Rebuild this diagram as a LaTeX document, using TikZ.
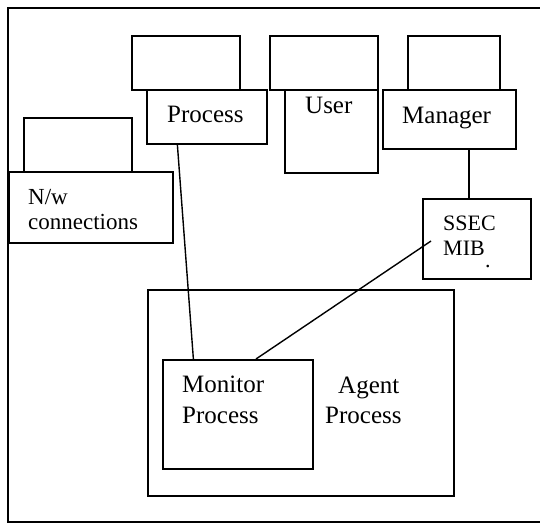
\documentclass[tikz,border=0pt]{standalone}
\usepackage{fontspec}
\setmainfont{Liberation Serif}
\usetikzlibrary{calc}
\begin{document}
\begin{tikzpicture}[x=1pt,y=-1pt,
  box/.style={draw,line width=1.6pt,inner sep=0pt,anchor=north west},
  lbl/.style={anchor=base west,inner sep=0pt,font=\fontsize{25}{30}\selectfont},
  slbl/.style={anchor=base west,inner sep=0pt,font=\fontsize{22}{26}\selectfont},
  nlbl/.style={anchor=base west,inner sep=0pt,font=\fontsize{23}{27}\selectfont},
  conn/.style={line width=1.4pt}]
\useasboundingbox (0,0) rectangle (540,523);
% outer frame (right edge beyond the picture)
\draw[line width=1.5pt] (545,8) -- (8,8) -- (8,522) -- (545,522);
% top empty boxes
\node[box,minimum width=108pt,minimum height=54pt] (ptop) at (131,35) {};
\node[box,minimum width=108pt,minimum height=54pt] (utop) at (269,35) {};
\node[box,minimum width=92pt,minimum height=54pt] (mtop) at (407,35) {};
\node[box,minimum width=108pt,minimum height=54pt] (ntop) at (23,117) {};
% main boxes
\node[box,minimum width=120pt,minimum height=54pt] (proc) at (146,89) {};
\node[box,minimum width=93pt,minimum height=83pt] (user) at (284,89) {};
\node[box,minimum width=133pt,minimum height=59pt] (mgr) at (382,89) {};
\node[box,minimum width=164pt,minimum height=71pt] (nw) at (8,171) {};
\node[box,minimum width=108pt,minimum height=80pt] (ssec) at (422,198) {};
\node[box,minimum width=306pt,minimum height=206pt] (agent) at (147,289) {};
\node[box,minimum width=150pt,minimum height=109pt] (mon) at (162,359) {};
% labels
\node[lbl] (tproc) at (167,122) {Process};
\node[lbl] (tuser) at (305,113) {User};
\node[lbl] (tmgr) at (402,123) {Manager};
\node[nlbl] (tnw1) at (28,204) {N/w};
\node[nlbl] (tnw2) at (28,229) {connections};
\node[slbl] (tss1) at (443,230) {SSEC};
\node[slbl] (tss2) at (443,255) {MIB};
\node[slbl] (tdot) at (485,267) {.};
\node[lbl] (tmon1) at (182,392) {Monitor};
\node[lbl] (tmon2) at (182,423) {Process};
\node[lbl] (tag1) at (338,393) {Agent};
\node[lbl] (tag2) at (325,423) {Process};
% connectors
\coordinate (ssecin) at (431,241);
\draw[conn] ($(proc.south west)!0.258!(proc.south east)$) -- ($(mon.north west)!0.207!(mon.north east)$);
\draw[conn] (mgr.south -| 469,0) -- (ssec.north -| 469,0);
\draw[conn] (ssecin) -- ($(mon.north west)!0.62!(mon.north east)$);
\end{tikzpicture}
\end{document}
